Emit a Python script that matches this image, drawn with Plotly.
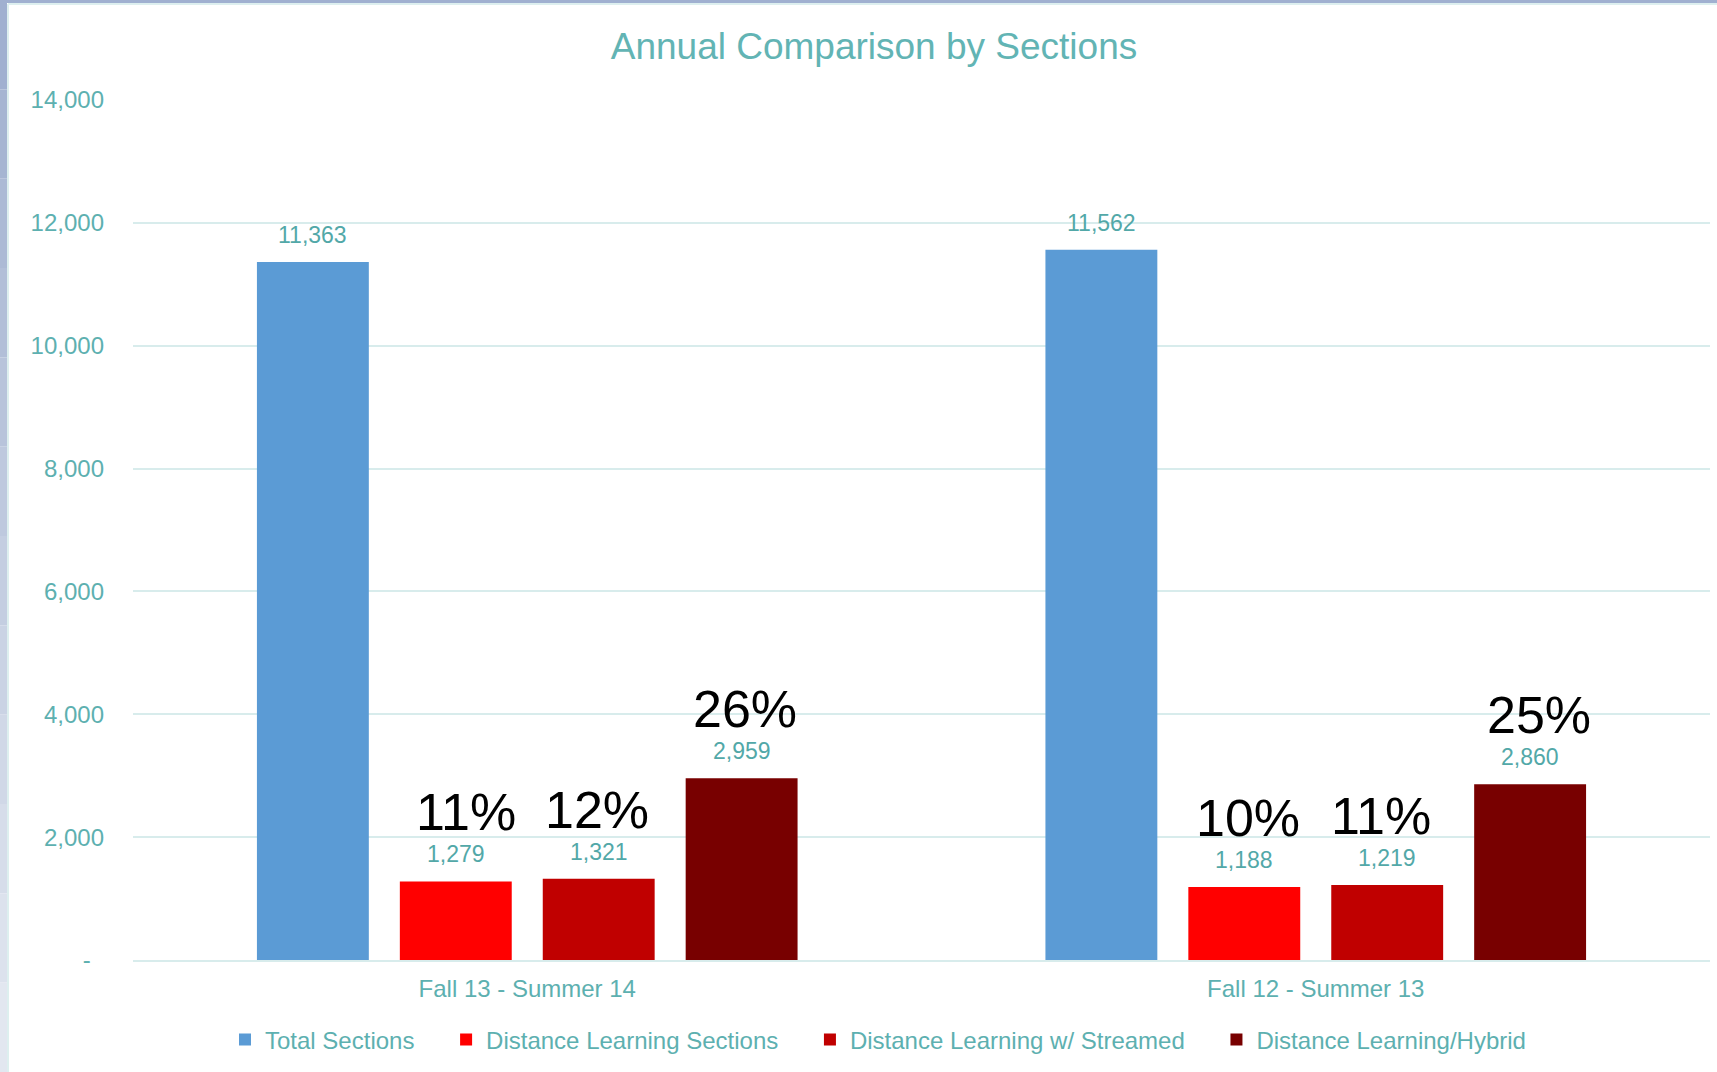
import plotly.graph_objects as go

# ---------------- data ----------------
categories = ["Fall 13 - Summer 14", "Fall 12 - Summer 13"]
series_names = ["Total Sections", "Distance Learning Sections",
                "Distance Learning w/ Streamed", "Distance Learning/Hybrid"]
total_sections = [11363, 11562]
dl_sections = [1279, 1188]
dl_streamed = [1321, 1219]
dl_hybrid = [2959, 2860]
pct_dl_sections = ["11%", "10%"]
pct_dl_streamed = ["12%", "11%"]
pct_dl_hybrid = ["26%", "25%"]
y_tick_values = [0, 2000, 4000, 6000, 8000, 10000, 12000, 14000]

# ---------------- style ----------------
W, H = 1717, 1072
PL, PR, PT, PB = 133, 1710, 100, 960
FONT = "Liberation Sans, Arial, sans-serif"
TEAL = "#5DB0B0"
TEAL_LBL = "#52A8A8"
GRID = "#D8ECEC"
colors = ["#5B9BD5", "#FF0000", "#C00000", "#780000"]
BARGAP = 0.275
BARGROUPGAP = 0.217
LEGEND_PAD = "\u00a0" * 4

series_values = [total_sections, dl_sections, dl_streamed, dl_hybrid]
series_pcts = [None, pct_dl_sections, pct_dl_streamed, pct_dl_hybrid]
pct_xshift = [None, [10, 4], [-2, -6], [3, 9]]

fig = go.Figure()
for k, (name, vals, col) in enumerate(zip(series_names, series_values, colors)):
    label = name + (LEGEND_PAD if k < len(series_names) - 1 else "")
    fig.add_trace(go.Bar(
        name=label, x=categories, y=vals, marker=dict(color=col, line=dict(width=0)),
        hovertemplate=f"{name}<br>%{{x}}: %{{y:,}}<extra></extra>",
    ))

n = len(series_names)
slot = (1 - BARGAP) / n
annotations = []
for j, (vals, pcts) in enumerate(zip(series_values, series_pcts)):
    for i, v in enumerate(vals):
        xpos = i + (j - (n - 1) / 2) * slot
        annotations.append(dict(
            x=xpos, y=v, xref="x", yref="y", text=f"{v:,}", showarrow=False,
            yanchor="bottom", yshift=12,
            font=dict(family=FONT, size=23, color=TEAL_LBL)))
        if pcts is not None:
            annotations.append(dict(
                x=xpos, y=v, xref="x", yref="y", text=pcts[i], showarrow=False,
                yanchor="bottom", yshift=38, xshift=pct_xshift[j][i],
                font=dict(family=FONT, size=52, color="#000000")))

ticktext = [("-\u00a0\u00a0" if v == 0 else f"{v:,}") for v in y_tick_values]

def px_x(p):
    return (p - PL) / (PR - PL)

def px_y(p):
    return (PB - p) / (PB - PT)

# decorative frame: left gradient strip + top strip + light border
shapes = []
n_seg = 12
c_top = (160, 176, 208)
c_bot = (226, 231, 240)
for k in range(n_seg):
    t = k / (n_seg - 1)
    c = tuple(int(c_top[m] + (c_bot[m] - c_top[m]) * t) for m in range(3))
    y0 = k * H / n_seg
    y1 = (k + 1) * H / n_seg
    shapes.append(dict(type="rect", xref="paper", yref="paper",
                       x0=px_x(0), x1=px_x(7), y0=px_y(y1), y1=px_y(y0),
                       fillcolor=f"rgb{c}", line=dict(width=0), layer="above"))
shapes.append(dict(type="rect", xref="paper", yref="paper",
                   x0=px_x(0), x1=px_x(W), y0=px_y(3), y1=px_y(0),
                   fillcolor="#A0B0D0", line=dict(width=0), layer="above"))
shapes.append(dict(type="line", xref="paper", yref="paper",
                   x0=px_x(8), x1=px_x(8), y0=px_y(H), y1=px_y(4),
                   line=dict(color="#DDEFEF", width=2), layer="above"))
shapes.append(dict(type="line", xref="paper", yref="paper",
                   x0=px_x(8), x1=px_x(W), y0=px_y(4), y1=px_y(4),
                   line=dict(color="#DDEFEF", width=2), layer="above"))

fig.update_layout(
    width=W, height=H,
    paper_bgcolor="white", plot_bgcolor="white",
    margin=dict(l=PL, r=W - PR, t=PT, b=H - PB, pad=0),
    barmode="group", bargap=BARGAP, bargroupgap=BARGROUPGAP,
    title=dict(text="Annual Comparison by Sections", x=874 / W, xanchor="center",
               xref="container", y=1 - 46 / H, yanchor="middle", yref="container",
               font=dict(family=FONT, size=37, color="#62B4B4")),
    font=dict(family=FONT, color=TEAL),
    showlegend=True,
    legend=dict(orientation="h", x=px_x(878), xanchor="center",
                y=-(1040 - PB) / (PB - PT), yanchor="middle",
                font=dict(family=FONT, size=24, color=TEAL),
                bgcolor="rgba(0,0,0,0)", itemclick=False),
    annotations=annotations,
    shapes=shapes,
)
fig.update_xaxes(showgrid=False, showline=True, linecolor=GRID, linewidth=2,
                 ticks="", tickfont=dict(family=FONT, size=24, color=TEAL),
                 ticklabelstandoff=6)
fig.update_yaxes(range=[0, 14000], tickvals=y_tick_values, ticktext=ticktext,
                 showgrid=True, gridcolor=GRID, gridwidth=2, zeroline=False,
                 showline=False, ticks="",
                 tickfont=dict(family=FONT, size=24, color=TEAL),
                 ticklabelstandoff=28)

fig.write_html("out.html", config={"displayModeBar": False},
               post_script="document.body.style.margin='0px';document.body.style.padding='0px';")
